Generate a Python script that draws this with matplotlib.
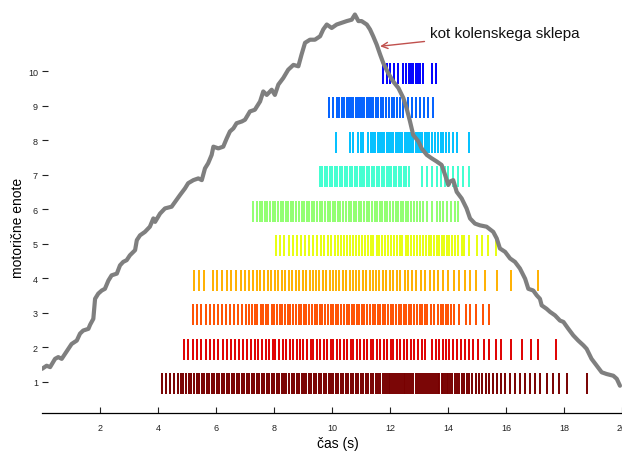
import matplotlib
matplotlib.use("Agg")
import matplotlib.pyplot as plt

plt.rcParams['font.family'] = ['Liberation Sans', 'DejaVu Sans']

# ---- data ----
units = [1, 2, 3, 4, 5, 6, 7, 8, 9, 10]
unit_colors = ['#780000', '#e00000', '#ff5000', '#ffb000', '#e8ff10',
               '#90ff70', '#40ffd0', '#00c0ff', '#0060ff', '#0000ff']

u1 = [4.15, 4.28, 4.41, 4.55, 4.69, 4.78, 4.87, 4.97, 5.06, 5.15, 5.24, 5.33, 5.42, 5.50, 5.59, 5.68,
      5.76, 5.85, 5.94, 6.02, 6.11, 6.20, 6.28, 6.37, 6.46, 6.54, 6.63, 6.72, 6.80, 6.89, 6.97, 7.06,
      7.15, 7.23, 7.32, 7.40, 7.49, 7.58, 7.66, 7.75, 7.83, 7.92, 8.01, 8.09, 8.18, 8.26, 8.35, 8.43,
      8.52, 8.61, 8.69, 8.78, 8.86, 8.95, 9.03, 9.12, 9.20, 9.29, 9.37, 9.46, 9.54, 9.63, 9.71, 9.80,
      9.88, 9.97, 10.05, 10.14, 10.22, 10.31, 10.39, 10.48, 10.56, 10.65, 10.73, 10.82, 10.90, 10.99,
      11.07, 11.16, 11.24, 11.33, 11.41, 11.50, 11.58, 11.67, 11.75, 11.82, 11.88, 11.95, 12.01, 12.08,
      12.14, 12.21, 12.27, 12.34, 12.40, 12.47, 12.53, 12.60, 12.66, 12.73, 12.80, 12.88, 12.96, 13.04,
      13.12, 13.18, 13.25, 13.31, 13.38, 13.44, 13.51, 13.57, 13.64, 13.70, 13.78, 13.84, 13.90, 13.96,
      14.01, 14.08, 14.15, 14.23, 14.31, 14.39, 14.47, 14.55, 14.64, 14.73, 14.84, 14.96, 15.07, 15.18,
      15.30, 15.41, 15.54, 15.68, 15.82, 15.98, 16.14, 16.31, 16.48, 16.66, 16.83, 17.00, 17.17, 17.40,
      17.63, 17.84, 18.11, 18.78]
u2 = [4.91, 5.05, 5.20, 5.33, 5.48, 5.64, 5.80, 5.94, 6.08, 6.23, 6.37, 6.51, 6.66, 6.79, 6.94, 7.08,
      7.20, 7.34, 7.45, 7.58, 7.71, 7.82, 7.95, 8.05, 8.18, 8.31, 8.42, 8.56, 8.66, 8.78, 8.91, 9.01,
      9.13, 9.26, 9.36, 9.48, 9.60, 9.71, 9.82, 9.95, 10.05, 10.17, 10.29, 10.40, 10.51, 10.64, 10.74,
      10.86, 10.98, 11.09, 11.20, 11.33, 11.43, 11.55, 11.67, 11.78, 11.89, 12.02, 12.12, 12.24, 12.36,
      12.47, 12.59, 12.72, 12.84, 12.97, 13.10, 13.22, 13.45, 13.58, 13.70, 13.82, 13.93, 14.04, 14.16,
      14.30, 14.44, 14.58, 14.71, 14.85, 15.02, 15.25, 15.42, 15.66, 15.83, 16.16, 16.54, 16.86, 17.09,
      17.71]
u3 = [5.20, 5.33, 5.48, 5.64, 5.80, 5.94, 6.08, 6.22, 6.36, 6.49, 6.63, 6.77, 6.90, 7.03, 7.14, 7.24,
      7.35, 7.43, 7.54, 7.62, 7.73, 7.81, 7.92, 8.00, 8.11, 8.19, 8.29, 8.38, 8.48, 8.56, 8.67, 8.75,
      8.85, 8.93, 9.04, 9.12, 9.22, 9.30, 9.41, 9.49, 9.59, 9.67, 9.77, 9.86, 9.96, 10.04, 10.14, 10.22,
      10.32, 10.40, 10.50, 10.58, 10.68, 10.76, 10.86, 10.94, 11.04, 11.12, 11.22, 11.30, 11.40, 11.48,
      11.58, 11.66, 11.76, 11.84, 11.94, 12.02, 12.12, 12.20, 12.30, 12.38, 12.48, 12.56, 12.66, 12.74,
      12.84, 12.92, 13.02, 13.10, 13.20, 13.28, 13.40, 13.52, 13.64, 13.76, 13.84, 13.92, 14.01, 14.10,
      14.21, 14.39, 14.61, 14.76, 14.97, 15.20, 15.42]
u4 = [5.24, 5.42, 5.60, 5.89, 6.04, 6.21, 6.37, 6.53, 6.69, 6.85, 7.00, 7.15, 7.28, 7.42, 7.53, 7.67,
      7.78, 7.91, 8.04, 8.15, 8.28, 8.39, 8.52, 8.63, 8.76, 8.87, 8.99, 9.10, 9.23, 9.33, 9.46, 9.56,
      9.69, 9.79, 9.92, 10.02, 10.15, 10.25, 10.38, 10.48, 10.61, 10.71, 10.84, 10.94, 11.07, 11.17,
      11.30, 11.40, 11.53, 11.63, 11.76, 11.87, 12.00, 12.11, 12.24, 12.36, 12.50, 12.62, 12.77, 12.90,
      13.06, 13.20, 13.37, 13.52, 13.67, 13.82, 14.00, 14.20, 14.39, 14.58, 14.77, 14.97, 15.28, 15.70,
      16.16, 17.09]
u5 = [8.07, 8.21, 8.36, 8.51, 8.65, 8.79, 8.94, 9.08, 9.22, 9.35, 9.48, 9.61, 9.73, 9.85, 9.97, 10.09,
      10.20, 10.31, 10.42, 10.53, 10.63, 10.74, 10.83, 10.94, 11.03, 11.14, 11.23, 11.34, 11.43, 11.54,
      11.63, 11.74, 11.83, 11.94, 12.03, 12.14, 12.23, 12.34, 12.43, 12.54, 12.63, 12.74, 12.83, 12.94,
      13.03, 13.14, 13.23, 13.34, 13.43, 13.53, 13.63, 13.70, 13.78, 13.86, 13.95, 14.04, 14.14, 14.23,
      14.36, 14.48, 14.56, 14.71, 14.99, 15.18, 15.39, 15.66]
u6 = [7.29, 7.40, 7.50, 7.59, 7.69, 7.77, 7.87, 7.95, 8.05, 8.13, 8.23, 8.31, 8.41, 8.49, 8.59, 8.67,
      8.77, 8.85, 8.95, 9.03, 9.13, 9.21, 9.31, 9.39, 9.49, 9.57, 9.67, 9.75, 9.85, 9.93, 10.03, 10.11,
      10.21, 10.29, 10.39, 10.47, 10.57, 10.65, 10.75, 10.83, 10.93, 11.01, 11.11, 11.19, 11.29, 11.37,
      11.47, 11.55, 11.65, 11.73, 11.83, 11.91, 12.01, 12.09, 12.19, 12.27, 12.37, 12.45, 12.55, 12.63,
      12.73, 12.83, 12.93, 13.04, 13.15, 13.28, 13.44, 13.61, 13.72, 13.84, 13.95, 14.09, 14.24, 14.36]
u7 = [9.59, 9.67, 9.76, 9.84, 9.93, 10.01, 10.10, 10.18, 10.27, 10.35, 10.44, 10.52, 10.61, 10.69,
      10.78, 10.86, 10.95, 11.03, 11.12, 11.20, 11.29, 11.37, 11.46, 11.54, 11.63, 11.71, 11.80, 11.88,
      11.97, 12.05, 12.14, 12.22, 12.31, 12.39, 12.48, 12.56, 12.65, 13.09, 13.27, 13.44, 13.61, 13.76,
      13.90, 14.01, 14.18, 14.36, 14.53, 14.73]
u8 = [10.13, 10.62, 10.73, 10.91, 10.99, 11.08, 11.25, 11.33, 11.41, 11.49, 11.57, 11.65, 11.72, 11.80,
      11.88, 11.96, 12.03, 12.11, 12.19, 12.27, 12.34, 12.42, 12.50, 12.58, 12.65, 12.73, 12.81, 12.89,
      12.96, 13.04, 13.12, 13.20, 13.28, 13.36, 13.45, 13.55, 13.65, 13.75, 13.84, 13.93, 14.05, 14.18,
      14.32, 14.73]
u9 = [9.90, 10.04, 10.16, 10.25, 10.34, 10.42, 10.51, 10.59, 10.66, 10.73, 10.82, 10.89, 10.97, 11.04,
      11.11, 11.20, 11.28, 11.34, 11.42, 11.51, 11.60, 11.68, 11.77, 11.86, 11.97, 12.06, 12.15, 12.23,
      12.34, 12.46, 12.61, 12.75, 12.89, 13.03, 13.18, 13.32, 13.49]
u10 = [11.77, 11.89, 12.00, 12.14, 12.29, 12.44, 12.55, 12.64, 12.72, 12.80, 12.89, 12.97, 13.04,
       13.14, 13.44, 13.58]
spike_times = [u1, u2, u3, u4, u5, u6, u7, u8, u9, u10]

# knee angle trace (in the raster's y units)
angle_t = [0.00, 0.16, 0.28, 0.45, 0.56, 0.68, 0.79, 1.02, 1.20, 1.31, 1.42, 1.60, 1.66, 1.77, 1.83,
           1.94, 2.06, 2.17, 2.29, 2.40, 2.58, 2.69, 2.80, 2.92, 3.03, 3.21, 3.27, 3.38, 3.55, 3.72,
           3.84, 3.90, 4.07, 4.24, 4.47, 4.59, 4.76, 4.93, 5.04, 5.22, 5.39, 5.51, 5.62, 5.73, 5.85,
           5.91, 6.08, 6.25, 6.37, 6.48, 6.60, 6.71, 6.89, 7.00, 7.17, 7.34, 7.52, 7.63, 7.75, 7.92,
           8.03, 8.15, 8.32, 8.49, 8.67, 8.84, 8.95, 9.07, 9.24, 9.41, 9.59, 9.70, 9.82, 9.99, 10.16,
           10.33, 10.51, 10.68, 10.79, 10.91, 11.02, 11.20, 11.31, 11.42, 11.54, 11.66, 11.77, 11.94,
           12.11, 12.29, 12.46, 12.57, 12.69, 12.80, 12.98, 13.09, 13.27, 13.44, 13.61, 13.78, 13.90,
           14.01, 14.07, 14.18, 14.30, 14.47, 14.64, 14.76, 14.93, 15.10, 15.33, 15.56, 15.68, 15.79,
           15.97, 16.14, 16.31, 16.48, 16.66, 16.77, 16.94, 17.06, 17.17, 17.23, 17.40, 17.52, 17.69,
           17.86, 17.98, 18.15, 18.32, 18.49, 18.67, 18.78, 18.95, 19.13, 19.30, 19.47, 19.70, 19.82,
           19.93]
angle_v = [1.38, 1.47, 1.43, 1.67, 1.72, 1.67, 1.81, 2.10, 2.20, 2.40, 2.49, 2.54, 2.66, 2.83, 3.41,
           3.56, 3.65, 3.70, 3.94, 4.09, 4.14, 4.38, 4.48, 4.53, 4.67, 4.82, 5.11, 5.25, 5.35, 5.50,
           5.74, 5.64, 5.88, 6.03, 6.08, 6.22, 6.42, 6.61, 6.76, 6.85, 6.90, 6.85, 7.19, 7.34, 7.58,
           7.82, 7.77, 7.82, 8.06, 8.26, 8.35, 8.50, 8.55, 8.60, 8.84, 8.89, 9.13, 9.42, 9.32, 9.47,
           9.32, 9.62, 9.81, 10.05, 10.19, 10.15, 10.49, 10.83, 10.92, 10.92, 11.02, 11.22, 11.36, 11.26,
           11.36, 11.41, 11.46, 11.50, 11.65, 11.46, 11.46, 11.36, 11.22, 11.02, 10.78, 10.49, 10.24,
           9.95, 9.71, 9.52, 9.23, 8.94, 8.55, 8.16, 7.97, 7.77, 7.58, 7.48, 7.39, 7.29, 7.00, 6.71,
           6.81, 6.85, 6.51, 6.32, 6.03, 5.74, 5.59, 5.54, 5.50, 5.35, 5.16, 4.87, 4.77, 4.58, 4.48,
           4.29, 3.99, 3.70, 3.65, 3.51, 3.41, 3.22, 3.12, 3.03, 2.93, 2.78, 2.74, 2.54, 2.35, 2.20,
           2.06, 1.96, 1.67, 1.47, 1.28, 1.23, 1.18, 1.09, 0.89]

xticks = [2, 4, 6, 8, 10, 12, 14, 16, 18, 20]
annot_text = 'kot kolenskega sklepa'

# ---- figure ----
fig = plt.figure(figsize=(6.22, 4.52), dpi=100)
ax = fig.add_axes([42 / 622, 38 / 452, 580 / 622, 414 / 452])

for u, c, ts in zip(units, unit_colors, spike_times):
    ax.vlines(ts, u - 0.35, u + 0.25, colors=c, linewidth=1.4, zorder=2)

ax.plot(angle_t, angle_v, color='#7f7f7f', linewidth=3.0, zorder=3,
        solid_joinstyle='round', solid_capstyle='round')

ax.annotate(annot_text, xy=(11.66, 10.73), xytext=(13.38, 11.12),
            ha='left', va='center', fontsize=11, color='#111111',
            arrowprops=dict(arrowstyle='->', color='#c0504d', lw=1.0, mutation_scale=11,
                            shrinkA=2, shrinkB=0))

ax.set_xlim(0, 20)
ax.set_ylim(0.1, 12.1)
ax.set_xticks(xticks)
ax.set_yticks(units)
ax.tick_params(axis='both', direction='in', length=4, width=0.8, labelsize=6.5, colors='#222222')
ax.tick_params(axis='x', pad=7)
ax.tick_params(axis='y', pad=3)
for s in ['left', 'top', 'right']:
    ax.spines[s].set_visible(False)
ax.spines['bottom'].set_linewidth(0.9)

ax.set_xlabel('čas (s)', fontsize=10)
ax.set_ylabel('motorične enote', fontsize=10)
ax.xaxis.set_label_coords(0.51, -0.055)
ax.yaxis.set_label_coords(-0.03, 0.45)

fig.savefig('out.png', dpi=100)
